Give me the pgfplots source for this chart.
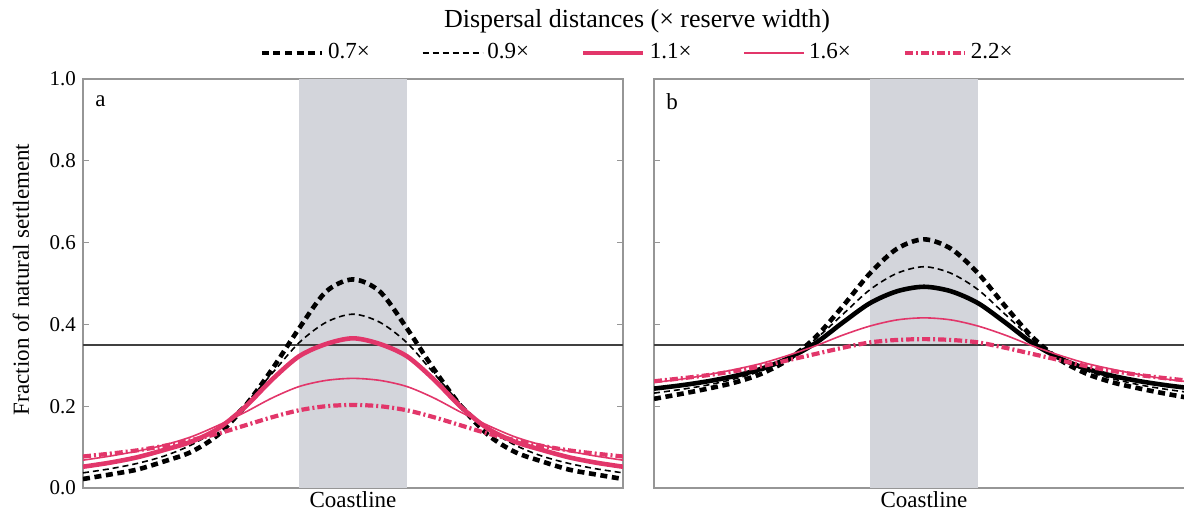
\documentclass[border=0pt]{standalone}
\usepackage{fontspec}
\setmainfont{Liberation Serif}
\usepackage{pgfplots}
\usepackage{pgfplotstable}
\pgfplotsset{compat=1.18}

\definecolor{pinkline}{RGB}{226,54,106}
\definecolor{bandgray}{RGB}{211,213,219}
\definecolor{framegray}{RGB}{150,150,150}

% settlement fraction vs distance along coast (units of reserve width)
\pgfplotstableread{
x     a07   a09   a11   a16   a22   b07   b09   b11   b16   b22
-2.5  0.022 0.037 0.052 0.068 0.077 0.218 0.232 0.243 0.258 0.261
-2.25 0.033 0.047 0.062 0.078 0.084 0.230 0.241 0.251 0.266 0.268
-2.0  0.045 0.060 0.075 0.090 0.092 0.243 0.252 0.261 0.277 0.276
-1.75 0.065 0.078 0.093 0.105 0.103 0.258 0.267 0.274 0.290 0.286
-1.5  0.088 0.105 0.113 0.125 0.117 0.280 0.287 0.292 0.305 0.298
-1.25 0.130 0.145 0.145 0.153 0.133 0.315 0.318 0.318 0.325 0.313
-1.0  0.200 0.205 0.198 0.185 0.153 0.370 0.365 0.355 0.348 0.328
-0.75 0.290 0.280 0.265 0.220 0.173 0.445 0.425 0.405 0.374 0.343
-0.5  0.390 0.355 0.322 0.248 0.190 0.525 0.485 0.452 0.396 0.356
-0.25 0.480 0.405 0.352 0.263 0.200 0.585 0.525 0.481 0.411 0.362
0.0   0.510 0.425 0.366 0.268 0.203 0.608 0.541 0.492 0.416 0.364
0.25  0.480 0.405 0.352 0.263 0.200 0.585 0.525 0.481 0.411 0.362
0.5   0.390 0.355 0.322 0.248 0.190 0.525 0.485 0.452 0.396 0.356
0.75  0.290 0.280 0.265 0.220 0.173 0.445 0.425 0.405 0.374 0.343
1.0   0.200 0.205 0.198 0.185 0.153 0.370 0.365 0.355 0.348 0.328
1.25  0.130 0.145 0.145 0.153 0.133 0.315 0.318 0.318 0.325 0.313
1.5   0.088 0.105 0.113 0.125 0.117 0.280 0.287 0.292 0.305 0.298
1.75  0.065 0.078 0.093 0.105 0.103 0.258 0.267 0.274 0.290 0.286
2.0   0.045 0.060 0.075 0.090 0.092 0.243 0.252 0.261 0.277 0.276
2.25  0.033 0.047 0.062 0.078 0.084 0.230 0.241 0.251 0.266 0.268
2.5   0.022 0.037 0.052 0.068 0.077 0.218 0.232 0.243 0.258 0.261
}\settle

\pgfplotsset{
  panel/.style={
    scale only axis, width=270pt, height=204.5pt, anchor=south west,
    xmin=-2.5, xmax=2.5, ymin=0, ymax=1,
    xtick=\empty,
    ytick={0,0.2,0.4,0.6,0.8,1.0},
    yticklabel style={/pgf/number format/.cd,fixed,fixed zerofill,precision=1},
    /pgf/number format/assume math mode=true,
    tick align=inside, major tick length=3pt,
    tick style={framegray, line width=0.6pt},
    axis line style={framegray, line width=0.8pt},
    tick label style={font=\fontsize{10.5}{12}\selectfont},
    label style={font=\fontsize{11.5}{13}\selectfont},
    xlabel={Coastline},
    xlabel style={at={(axis description cs:0.5,0)}, anchor=north, inner sep=0pt, yshift=-1.5pt},
    clip=true,
  },
  s07/.style={black, line width=2.3pt, dash pattern=on 3.5pt off 2.3pt},
  s09/.style={black, line width=0.8pt, dash pattern=on 3pt off 2pt},
  s11/.style={line width=2.3pt},
  s16/.style={line width=0.8pt},
  s22/.style={line width=2.1pt, dash pattern=on 4pt off 1.5pt on 1pt off 1.5pt},
  legend image code/.code={\draw[#1] (0pt,0pt) -- (30pt,0pt);},
}

\begin{document}
\begin{tikzpicture}
\useasboundingbox (0,0) rectangle (592pt,255pt);

\node[font=\fontsize{13}{15}\selectfont] at (318.5pt,244.5pt) {Dispersal distances (× reserve width)};

\begin{axis}[panel, at={(41.5pt,11pt)},
  ylabel={Fraction of natural settlement},
  ylabel style={at={(axis description cs:-0.115,0.51)}, anchor=center},
  legend columns=5,
  legend style={at={(1.028,1.064)}, anchor=center, draw=none, fill=none,
    font=\fontsize{11.5}{13}\selectfont,
    /tikz/every even column/.append style={column sep=24pt}},
]
\addplot[fill=bandgray, draw=none, forget plot] coordinates {(-0.5,1) (0.5,1)} \closedcycle;
\addplot[black!75, line width=0.9pt, forget plot] coordinates {(-2.5,0.35) (2.5,0.35)};
\addplot[s07, smooth] table[x=x, y=a07] {\settle};
\addplot[s09, smooth] table[x=x, y=a09] {\settle};
\addplot[s11, pinkline, smooth] table[x=x, y=a11] {\settle};
\addplot[s16, pinkline, smooth] table[x=x, y=a16] {\settle};
\addplot[s22, pinkline, smooth] table[x=x, y=a22] {\settle};
\legend{0.7×, 0.9×, 1.1×, 1.6×, 2.2×}
\node[anchor=west, font=\fontsize{11.5}{13}\selectfont] at (rel axis cs:0.01,0.945) {a};
\end{axis}

\begin{axis}[panel, at={(327pt,11pt)}, yticklabels={}]
\addplot[fill=bandgray, draw=none] coordinates {(-0.5,1) (0.5,1)} \closedcycle;
\addplot[black!75, line width=0.9pt] coordinates {(-2.5,0.35) (2.5,0.35)};
\addplot[s07, smooth] table[x=x, y=b07] {\settle};
\addplot[s09, smooth] table[x=x, y=b09] {\settle};
\addplot[s11, black, smooth] table[x=x, y=b11] {\settle};
\addplot[s16, pinkline, smooth] table[x=x, y=b16] {\settle};
\addplot[s22, pinkline, smooth] table[x=x, y=b22] {\settle};
\node[anchor=west, font=\fontsize{11.5}{13}\selectfont] at (rel axis cs:0.01,0.945) {b};
\end{axis}
\end{tikzpicture}
\end{document}
